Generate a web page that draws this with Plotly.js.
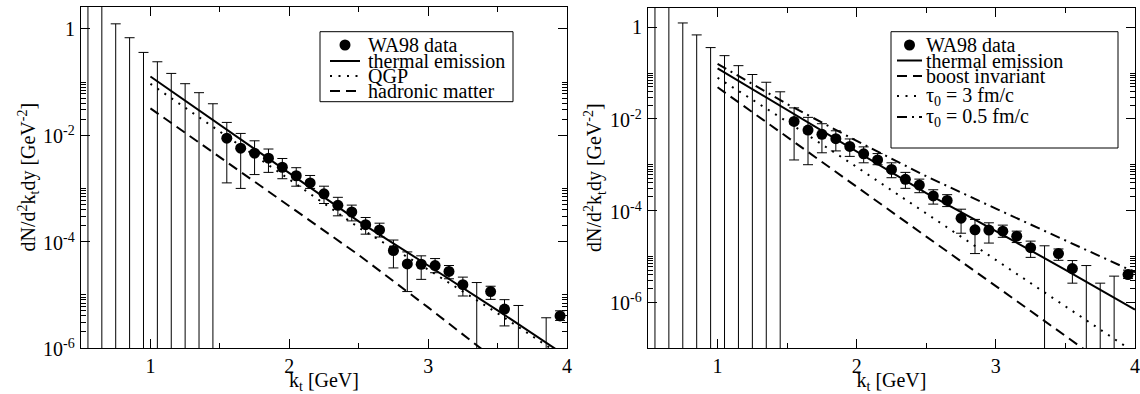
<!DOCTYPE html>
<html><head><meta charset="utf-8">
<script src="https://cdn.plot.ly/plotly-3.0.1.min.js"></script>
<style>html,body{margin:0;padding:0;background:#fff}#chart{width:1140px;height:394px}</style>
</head><body><div id="chart"></div>
<script>
// ---------- data ----------
// upper limits (bars reaching the bottom of the plot): kt and top of the bar
const ulKt  = [0.55, 0.65, 0.75, 0.85, 0.95, 1.05, 1.15, 1.25, 1.35, 1.45, 3.35, 3.65, 3.85];
const ulTop = [8, 4, 1.24, 0.68, 0.36, 0.24, 0.145, 0.093, 0.063, 0.039, 1.7e-5, 6.3e-6, 3.7e-6];
// extra upper limit only visible in the right panel
const ulKtRight  = [3.75];
const ulTopRight = [2.6e-6];

// WA98 data points
const dataKt   = [1.55, 1.65, 1.75, 1.85, 1.95, 2.05, 2.15, 2.25, 2.35, 2.45, 2.55, 2.65, 2.75, 2.85, 2.95, 3.05, 3.15, 3.25, 3.45, 3.55, 3.95];
const dataY    = [8.8e-3, 5.7e-3, 4.6e-3, 3.7e-3, 2.5e-3, 1.73e-3, 1.27e-3, 7.9e-4, 4.8e-4, 3.6e-4, 2.08e-4, 1.66e-4, 6.8e-5, 3.8e-5, 3.75e-5, 3.55e-5, 2.75e-5, 1.55e-5, 1.15e-5, 5.4e-6, 4.0e-6];
const dataHigh = [1.74e-2, 1.08e-2, 7.85e-3, 5.5e-3, 3.65e-3, 2.45e-3, 1.75e-3, 1.1e-3, 6.8e-4, 4.85e-4, 2.84e-4, 2.22e-4, 1.07e-4, 6.4e-5, 5.4e-5, 4.8e-5, 3.55e-5, 2.15e-5, 1.45e-5, 8.1e-6, 5.0e-6];
const dataLow  = [1.27e-3, 1.0e-3, 1.82e-3, 2.0e-3, 1.52e-3, 1.1e-3, 1.0e-3, 5.2e-4, 3.05e-4, 2.45e-4, 1.38e-4, 1.22e-4, 3.2e-5, 1.15e-5, 1.95e-5, 2.6e-5, 2.0e-5, 9.5e-6, 8.2e-6, 2.6e-6, 3.3e-6];

// model curves
const curveKt   = [1.0, 1.5, 2.0, 2.5, 3.0, 3.5, 4.0];
const thermal   = [0.127, 0.0157, 1.95e-3, 2.4e-4, 3.55e-5, 5.1e-6, 6.9e-7];
const qgp       = [0.0925, 0.0118, 1.48e-3, 1.84e-4, 2.97e-5, 4.5e-6, 6.2e-7];
const hadronKt  = [1.0, 1.5, 2.0, 2.5, 3.0, 3.5];
const hadronic  = [0.032, 3.9e-3, 4.7e-4, 5.6e-5, 5.8e-6, 5.6e-7];
const boostInv  = [0.049, 3.98e-3, 3.3e-4, 2.7e-5, 2.24e-6, 1.82e-7, 1.5e-8];
const tau3      = [0.079, 8.7e-3, 8.9e-4, 8.5e-5, 8.3e-6, 8.1e-7, 7.9e-8];
const tau05     = [0.158, 0.021, 3.3e-3, 5.6e-4, 1.1e-4, 2.2e-5, 4.5e-6];

// axis ticks
const xTickVals = [1, 2, 3, 4];
const xTickText = ['1', '2', '3', '4'];
const xMinorVals = [1.5, 2.5, 3.5];
const yTickVals = [1e-6, 1e-4, 1e-2, 1];
const yTickText = ['10<sup>-6</sup>', '10<sup>-4</sup>', '10<sup>-2</sup>', '1'];
const yMinorVals = [2e-6,3e-6,4e-6,5e-6,6e-6,7e-6,8e-6,9e-6,1e-5,
                    2e-4,3e-4,4e-4,5e-4,6e-4,7e-4,8e-4,9e-4,1e-3,
                    2e-2,3e-2,4e-2,5e-2,6e-2,7e-2,8e-2,9e-2,1e-1];

const xTitle = 'k<sub>t</sub> [GeV]';
const yTitle = 'dN/d<sup>2</sup>k<sub>t</sub>dy [GeV<sup>-2</sup>]';
const legendLeft  = ['WA98 data', 'thermal emission', 'QGP', 'hadronic matter'];
const legendRight = ['WA98 data', 'thermal emission', 'boost invariant', 'τ<sub>0</sub> = 3 fm/c', 'τ<sub>0</sub> = 0.5 fm/c'];

// ---------- styles ----------
const W = 1140, H = 394;
const FONT = 'Liberation Serif';
const DOT = '2px,6.5px', DASH = '10px,6px', DASHDOT = '10px,5px,2px,5px';
const txtFont = {family: FONT, size: 20, color: '#000'};

function ulTrace(xs, tops, xa, ya) {
  return {x: xs, y: tops, xaxis: xa, yaxis: ya, type: 'scatter', mode: 'markers',
    marker: {size: 2, color: '#000', opacity: 0}, showlegend: false, hoverinfo: 'skip',
    error_y: {type: 'data', symmetric: false, array: tops.map(() => 0), arrayminus: tops.map(v => 2 * v),
      color: '#000', thickness: 1, width: 5}};
}
function dataTrace(xa, ya) {
  return {x: dataKt, y: dataY, xaxis: xa, yaxis: ya, type: 'scatter', mode: 'markers',
    marker: {size: 11, color: '#000'}, showlegend: false,
    error_y: {type: 'data', symmetric: false,
      array: dataHigh.map((h, i) => h - dataY[i]), arrayminus: dataLow.map((l, i) => dataY[i] - l),
      color: '#000', thickness: 1, width: 5}};
}
function lineTrace(xs, ys, dash, xa, ya) {
  return {x: xs, y: ys, xaxis: xa, yaxis: ya, type: 'scatter', mode: 'lines',
    line: {color: '#000', width: 2, dash: dash}, showlegend: false};
}

const traces = [
  ulTrace(ulKt, ulTop, 'x', 'y'),
  dataTrace('x', 'y'),
  lineTrace(curveKt, thermal, 'solid', 'x', 'y'),
  lineTrace(curveKt, qgp, DOT, 'x', 'y'),
  lineTrace(hadronKt, hadronic, DASH, 'x', 'y'),
  ulTrace(ulKt.concat(ulKtRight), ulTop.concat(ulTopRight), 'x2', 'y2'),
  dataTrace('x2', 'y2'),
  lineTrace(curveKt, thermal, 'solid', 'x2', 'y2'),
  lineTrace(curveKt, boostInv, DASH, 'x2', 'y2'),
  lineTrace(curveKt, tau3, DOT, 'x2', 'y2'),
  lineTrace(curveKt, tau05, DASHDOT, 'x2', 'y2')
];

function xAxis(dom, anchor) {
  return {domain: dom, anchor: anchor, range: [0.5, 4], showline: true, mirror: 'ticks', linecolor: '#000', linewidth: 1,
    ticks: 'inside', ticklen: 9, tickwidth: 1, tickcolor: '#000', tickmode: 'array', tickvals: xTickVals, ticktext: xTickText,
    minor: {tickmode: 'array', tickvals: xMinorVals, ticks: 'inside', ticklen: 5, tickwidth: 1, tickcolor: '#000', showgrid: false},
    showgrid: false, zeroline: false, tickfont: txtFont,
    title: {text: xTitle, font: txtFont, standoff: 2}};
}
function yAxis(dom, anchor, range) {
  return {domain: dom, anchor: anchor, type: 'log', range: range, showline: true, mirror: 'ticks', linecolor: '#000', linewidth: 1,
    ticks: 'inside', ticklen: 9, tickwidth: 1, tickcolor: '#000', tickmode: 'array', tickvals: yTickVals, ticktext: yTickText,
    minor: {tickmode: 'array', tickvals: yMinorVals, ticks: 'inside', ticklen: 5, tickwidth: 1, tickcolor: '#000', showgrid: false},
    showgrid: false, zeroline: false, showticklabels: false};
}

const px = v => v / W, py = v => 1 - v / H;
const shapes = [], annotations = [];

// y tick labels (right-aligned against the axis) and rotated y titles
function yLabels(axisLeftPx, yref, domTop, domBot) {
  yTickVals.forEach((v, i) => {
    annotations.push({xref: 'paper', yref: yref, x: px(axisLeftPx - 4), y: Math.log10(v), xanchor: 'right', yanchor: 'middle',
      text: yTickText[i], showarrow: false, font: txtFont});
  });
  annotations.push({xref: 'paper', yref: 'paper', x: px(axisLeftPx - 53), y: py((domTop + domBot) / 2), xanchor: 'center', yanchor: 'middle',
    textangle: -90, text: yTitle, showarrow: false, font: txtFont});
}
yLabels(81, 'y', 7, 348);
yLabels(648, 'y2', 8, 348);

// ---------- hand-built legends (paper coordinates from pixels) ----------
function buildLegend(labels, styles, box, rows, sample, textX) {
  shapes.push({type: 'rect', xref: 'paper', yref: 'paper', x0: px(box[0]), x1: px(box[2]), y0: py(box[1]), y1: py(box[3]),
    line: {color: '#000', width: 1}, fillcolor: '#fff', layer: 'above'});
  labels.forEach((lab, i) => {
    const yy = rows[i], st = styles[i];
    if (st === 'marker') {
      const r = 5.5, cx = (sample[0] + sample[1]) / 2;
      shapes.push({type: 'circle', xref: 'paper', yref: 'paper', x0: px(cx - r), x1: px(cx + r), y0: py(yy + r), y1: py(yy - r),
        line: {color: '#000', width: 0}, fillcolor: '#000', layer: 'above'});
    } else {
      shapes.push({type: 'line', xref: 'paper', yref: 'paper', x0: px(sample[0]), x1: px(sample[1]), y0: py(yy), y1: py(yy),
        line: {color: '#000', width: 2, dash: st}, layer: 'above'});
    }
    annotations.push({xref: 'paper', yref: 'paper', x: px(textX), y: py(yy), xanchor: 'left', yanchor: 'middle',
      text: lab, showarrow: false, font: txtFont});
  });
}
buildLegend(legendLeft, ['marker', 'solid', DOT, DASH], [320, 31.7, 513, 101.7], [45, 61, 76, 91], [330, 360], 366);
buildLegend(legendRight, ['marker', 'solid', DASH, DOT, DASHDOT], [891, 31.7, 1118, 148], [45, 60.5, 76, 96, 117], [897, 922], 924);

const layout = {
  width: W, height: H, margin: {l: 0, r: 0, t: 0, b: 0}, paper_bgcolor: '#fff', plot_bgcolor: '#fff',
  showlegend: false, font: {family: FONT, color: '#000'},
  xaxis: xAxis([81 / W, 567 / W], 'y'),
  yaxis: yAxis([1 - 348 / H, 1 - 7 / H], 'x', [-6, 0.41]),
  xaxis2: xAxis([648 / W, 1135 / W], 'y2'),
  yaxis2: yAxis([1 - 348 / H, 1 - 8 / H], 'x2', [-7, 0.42]),
  shapes: shapes, annotations: annotations
};
Plotly.newPlot('chart', traces, layout, {staticPlot: true});
</script></body></html>
